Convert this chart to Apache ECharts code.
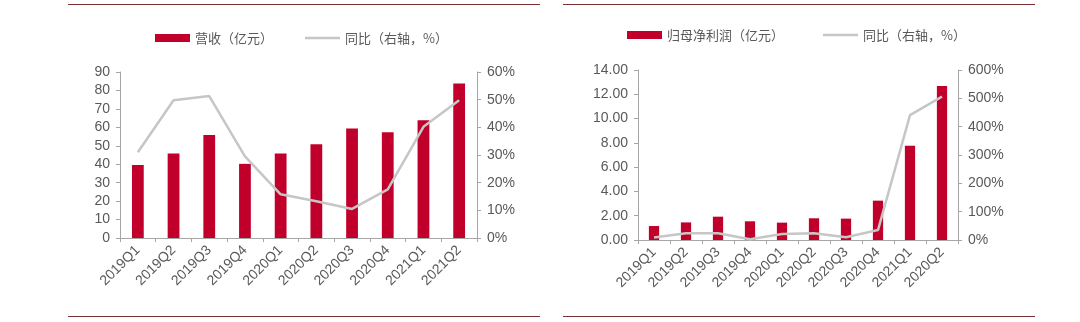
<!DOCTYPE html>
<html>
<head>
<meta charset="utf-8">
<script src="https://cdn.jsdelivr.net/npm/echarts@6/dist/echarts.min.js"></script>
<style>
html,body{margin:0;padding:0;background:#fff;}
#c{width:1080px;height:322px;}
</style>
</head>
<body>
<div id="c"></div>
<script>
// Left chart: revenue
const quartersA = ['2019Q1','2019Q2','2019Q3','2019Q4','2020Q1','2020Q2','2020Q3','2020Q4','2021Q1','2021Q2'];
const revenue = [39.6, 45.8, 55.8, 40.2, 45.8, 50.8, 59.4, 57.4, 63.8, 83.8];
const revenueYoY = [31.0, 49.8, 51.3, 29.5, 15.8, 13.3, 10.5, 17.6, 40.2, 49.8];
// Right chart: net profit
const quartersB = ['2019Q1','2019Q2','2019Q3','2019Q4','2020Q1','2020Q2','2020Q3','2020Q4','2021Q1','2020Q2'];
const netProfit = [1.15, 1.45, 1.92, 1.54, 1.43, 1.79, 1.76, 3.24, 7.77, 12.68];
const profitYoY = [9, 24, 24, 3, 21, 24, 10, 35, 441, 506];

const nameRev = '营收（亿元）';
const nameProfit = '归母净利润（亿元）';
const nameYoY = '同比（右轴，%）';
const nameYoY2 = '同比（右轴，%） ';

const RED = '#c0002a';
const GREY_LINE = '#c6c6c6';
const AX = '#a6a6a6';
const TXT = '#595959';
const CJK = '"Noto Sans CJK SC", sans-serif';
const LAT = '"Liberation Sans", Arial, sans-serif';

function xAxisCfg(idx, data){
  return {
    type:'category', gridIndex: idx, data: data,
    axisLine:{lineStyle:{color:AX,width:1}},
    axisTick:{show:true,alignWithLabel:false,length:4,lineStyle:{color:AX}},
    axisLabel:{rotate:45,color:TXT,fontSize:14,fontFamily:LAT,margin:10,interval:0}
  };
}
function yAxisCfg(idx, pos, max, interval, fmt){
  return {
    type:'value', gridIndex: idx, position: pos, min:0, max:max, interval:interval,
    splitLine:{show:false},
    axisLine:{show:true,lineStyle:{color:AX,width:1}},
    axisTick:{show:true,length:4,lineStyle:{color:AX}},
    axisLabel:{color:TXT,fontSize:14,fontFamily:LAT,margin:10,formatter:fmt}
  };
}
function legendCfg(left, top, name, h){
  return {left:left, top:top, padding:0, itemWidth:35, itemHeight:h, icon:'rect',
    textStyle:{color:TXT,fontSize:13,fontFamily:CJK,lineHeight:14},
    data:[name]};
}

const chart = echarts.init(document.getElementById('c'), null, {renderer:'canvas'});
chart.setOption({
  animation:false,
  backgroundColor:'#fff',
  textStyle:{fontFamily:LAT},
  legend:[
    legendCfg(155, 31, nameRev, 8),
    legendCfg(305, 31, nameYoY, 2.5),
    legendCfg(627, 28, nameProfit, 8),
    legendCfg(823, 28, nameYoY2, 2.5)
  ],
  grid:[
    {left:120, right:603, top:72, bottom:84},
    {left:638, right:122, top:70, bottom:82}
  ],
  xAxis:[ xAxisCfg(0, quartersA), xAxisCfg(1, quartersB) ],
  yAxis:[
    yAxisCfg(0,'left',90,10,'{value}'),
    yAxisCfg(0,'right',60,10,'{value}%'),
    yAxisCfg(1,'left',14,2,function(v){return v.toFixed(2);}),
    yAxisCfg(1,'right',600,100,'{value}%')
  ],
  series:[
    {name:nameRev,type:'bar',xAxisIndex:0,yAxisIndex:0,data:revenue,barWidth:'33%',itemStyle:{color:RED}},
    {name:nameYoY,type:'line',xAxisIndex:0,yAxisIndex:1,data:revenueYoY,symbol:'none',lineStyle:{color:GREY_LINE,width:2.5},itemStyle:{color:GREY_LINE}},
    {name:nameProfit,type:'bar',xAxisIndex:1,yAxisIndex:2,data:netProfit,barWidth:'32%',itemStyle:{color:RED}},
    {name:nameYoY2,type:'line',xAxisIndex:1,yAxisIndex:3,data:profitYoY,symbol:'none',lineStyle:{color:GREY_LINE,width:2.5},itemStyle:{color:GREY_LINE}}
  ],
  graphic:[
    {type:'line',shape:{x1:68,y1:4.5,x2:540,y2:4.5},style:{stroke:'#7b3232',lineWidth:1}},
    {type:'line',shape:{x1:563,y1:4.5,x2:1035,y2:4.5},style:{stroke:'#7b3232',lineWidth:1}},
    {type:'line',shape:{x1:68,y1:316.5,x2:540,y2:316.5},style:{stroke:'#7b3232',lineWidth:1}},
    {type:'line',shape:{x1:563,y1:316.5,x2:1035,y2:316.5},style:{stroke:'#7b3232',lineWidth:1}}
  ]
});
</script>
</body>
</html>
